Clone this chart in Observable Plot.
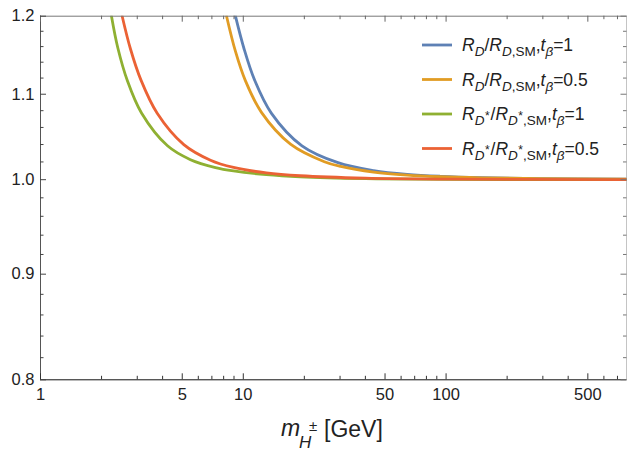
<!DOCTYPE html>
<html><head><meta charset="utf-8">
<script src="https://cdn.jsdelivr.net/npm/d3@7"></script>
<script src="https://cdn.jsdelivr.net/npm/@observablehq/plot@0.6"></script>
<style>body{margin:0;background:#fff} #chart svg{display:block}</style>
</head><body><div id="chart"></div>
<script>
// m_H± [GeV] and ratio values
const massRD_t1   = [9.15, 10.06, 11.36, 13.77, 19.47, 29.3, 43.9, 64.3, 93.8, 150, 292, 780];
const ratioRD_t1  = [1.2, 1.1582, 1.1177, 1.0768, 1.0385, 1.0192, 1.0103, 1.006, 1.0038, 1.0023, 1.0013, 1.0006];
const massRD_t05  = [8.27, 9.15, 10.25, 12.29, 17.09, 25.1, 30.2, 43.9, 64.3, 93.8, 150, 292, 780];
const ratioRD_t05 = [1.2, 1.1538, 1.1165, 1.078, 1.0405, 1.0203, 1.0149, 1.0085, 1.0051, 1.0033, 1.0021, 1.0012, 1.0006];
const massRDs_t1   = [2.239, 2.405, 2.685, 3.148, 4.229, 5.49, 7.29, 8.95, 13.0, 19.1, 40, 105, 780];
const ratioRDs_t1  = [1.2, 1.1585, 1.1163, 1.0772, 1.0385, 1.0226, 1.0136, 1.0098, 1.0056, 1.0032, 1.0012, 1.0004, 1.0001];
const massRDs_t05  = [2.528, 2.778, 3.13, 3.762, 5.09, 6.89, 8.95, 13.0, 19.1, 40, 105, 780];
const ratioRDs_t05 = [1.2, 1.1569, 1.1174, 1.0769, 1.0399, 1.022, 1.0138, 1.0076, 1.0044, 1.0017, 1.0006, 1.0001];

const seriesKeys = ["RD_t1", "RD_t05", "RDs_t1", "RDs_t05"];
const seriesColors = ["#5E81B5", "#E19C24", "#8FB032", "#EB6235"];

const xMajor = [1, 5, 10, 50, 100, 500];
const xMajorLabels = ["1", "5", "10", "50", "100", "500"];
const xMinor = [2, 3, 4, 6, 7, 8, 9, 20, 30, 40, 60, 70, 80, 90, 200, 300, 400, 600, 700];
const yMajor = [0.8, 0.9, 1.0, 1.1, 1.2];
const yMajorLabels = ["0.8", "0.9", "1.0", "1.1", "1.2"];
const yMinor = [0.82, 0.84, 0.86, 0.88, 0.92, 0.94, 0.96, 0.98, 1.02, 1.04, 1.06, 1.08, 1.12, 1.14, 1.16, 1.18];

const masses = [massRD_t1, massRD_t05, massRDs_t1, massRDs_t05];
const ratios = [ratioRD_t1, ratioRD_t05, ratioRDs_t1, ratioRDs_t05];
const rows = seriesKeys.flatMap((k, j) => masses[j].map((m, i) => ({key: k, m, v: ratios[j][i]})));

const W = 627, H = 451, mL = 40, mR = 0.5, mT = 15.7, mB = 71.7;
const fh = H - mT - mB;
const fw = W - mL - mR;
const font = "'Liberation Sans', Arial, sans-serif";

const plot = Plot.plot({
  width: W, height: H,
  marginLeft: mL, marginRight: mR, marginTop: mT, marginBottom: mB,
  style: {fontFamily: font, fontSize: "16px", background: "#fff", color: "#222"},
  x: {type: "log", domain: [1, 780], axis: null},
  y: {type: "log", domain: [0.8, 1.2], axis: null},
  color: {domain: seriesKeys, range: seriesColors},
  marks: [
    Plot.line(rows, {x: "m", y: "v", z: "key", stroke: "key", strokeWidth: 2.8, curve: "catmull-rom", clip: true}),
    // frame
    Plot.ruleY([1.2], {stroke: "#777", strokeWidth: 1}),
    Plot.ruleX([780], {stroke: "#888", strokeWidth: 1}),
    Plot.ruleX([1], {stroke: "#555", strokeWidth: 1}),
    Plot.ruleY([0.8], {stroke: "#111", strokeWidth: 1}),
    // bottom ticks
    Plot.tickX(xMajor, {x: d => d, insetTop: fh - 6, stroke: "#333"}),
    Plot.tickX(xMinor, {x: d => d, insetTop: fh - 3.5, stroke: "#333"}),
    // top ticks
    Plot.tickX(xMajor, {x: d => d, insetBottom: fh - 6, stroke: "#666"}),
    Plot.tickX(xMinor, {x: d => d, insetBottom: fh - 3.5, stroke: "#666"}),
    // left ticks
    Plot.tickY(yMajor, {y: d => d, insetRight: fw - 6, stroke: "#444"}),
    Plot.tickY(yMinor, {y: d => d, insetRight: fw - 3.5, stroke: "#444"}),
    // right ticks
    Plot.tickY(yMajor, {y: d => d, insetLeft: fw - 6, stroke: "#777"}),
    Plot.tickY(yMinor, {y: d => d, insetLeft: fw - 3.5, stroke: "#777"}),
    // tick labels
    Plot.text(xMajor, {x: d => d, text: (d, i) => xMajorLabels[i], frameAnchor: "bottom", dy: 20, fontSize: 16.5, fill: "#222"}),
    Plot.text(yMajor, {y: d => d, text: (d, i) => yMajorLabels[i], frameAnchor: "left", dx: -6, textAnchor: "end", fontSize: 16.5, fill: "#222"})
  ]
});
document.getElementById("chart").appendChild(plot);

const svg = d3.select(plot);

function richText(g, x, y, segs) {
  const t = g.append("text").attr("x", x).attr("y", y)
    .attr("text-anchor", "start")
    .attr("font-family", font).attr("fill", "#222");
  let base = 0;
  for (const s of segs) {
    const ts = t.append("tspan").text(s.t)
      .attr("font-size", s.size || 17.5)
      .attr("font-style", s.it ? "italic" : "normal");
    const b = s.b || 0;
    if (b !== base) ts.attr("dy", b - base);
    if (s.dx) ts.attr("dx", s.dx);
    base = b;
  }
  return t;
}

// legend
const sub = (t, it) => ({t, it, size: 13.5, b: 5});
const star = {t: "*", size: 12, b: -0.5, dx: 0.5};
const legendRows = [
  [{t: "R", it: 1}, sub("D", 1), {t: "/"}, {t: "R", it: 1}, sub("D", 1), sub(",SM"), {t: ","}, {t: "t", it: 1}, sub("β", 1), {t: "=1"}],
  [{t: "R", it: 1}, sub("D", 1), {t: "/"}, {t: "R", it: 1}, sub("D", 1), sub(",SM"), {t: ","}, {t: "t", it: 1}, sub("β", 1), {t: "=0.5"}],
  [{t: "R", it: 1}, sub("D", 1), star, {t: "/", dx: 1}, {t: "R", it: 1}, sub("D", 1), star, sub(",SM"), {t: ","}, {t: "t", it: 1}, sub("β", 1), {t: "=1"}],
  [{t: "R", it: 1}, sub("D", 1), star, {t: "/", dx: 1}, {t: "R", it: 1}, sub("D", 1), star, sub(",SM"), {t: ","}, {t: "t", it: 1}, sub("β", 1), {t: "=0.5"}]
];
const legendY = [45, 79.5, 114, 148.5];
const lg = svg.append("g");
legendRows.forEach((segs, i) => {
  lg.append("line").attr("x1", 422).attr("x2", 452).attr("y1", legendY[i]).attr("y2", legendY[i])
    .attr("stroke", seriesColors[i]).attr("stroke-width", 2.8);
  richText(lg, 462, legendY[i] + 6, segs);
});

// x axis title
const tg = svg.append("g").attr("font-family", font).attr("fill", "#222").attr("text-anchor", "start");
tg.append("text").attr("x", 281).attr("y", 436).attr("font-size", 23).attr("font-style", "italic").text("m");
tg.append("text").attr("x", 299).attr("y", 448).attr("font-size", 17).attr("font-style", "italic").text("H");
tg.append("text").attr("x", 309).attr("y", 431).attr("font-size", 15).text("±");
tg.append("text").attr("x", 324).attr("y", 437).attr("font-size", 23).text("[GeV]");
</script>
</body></html>
